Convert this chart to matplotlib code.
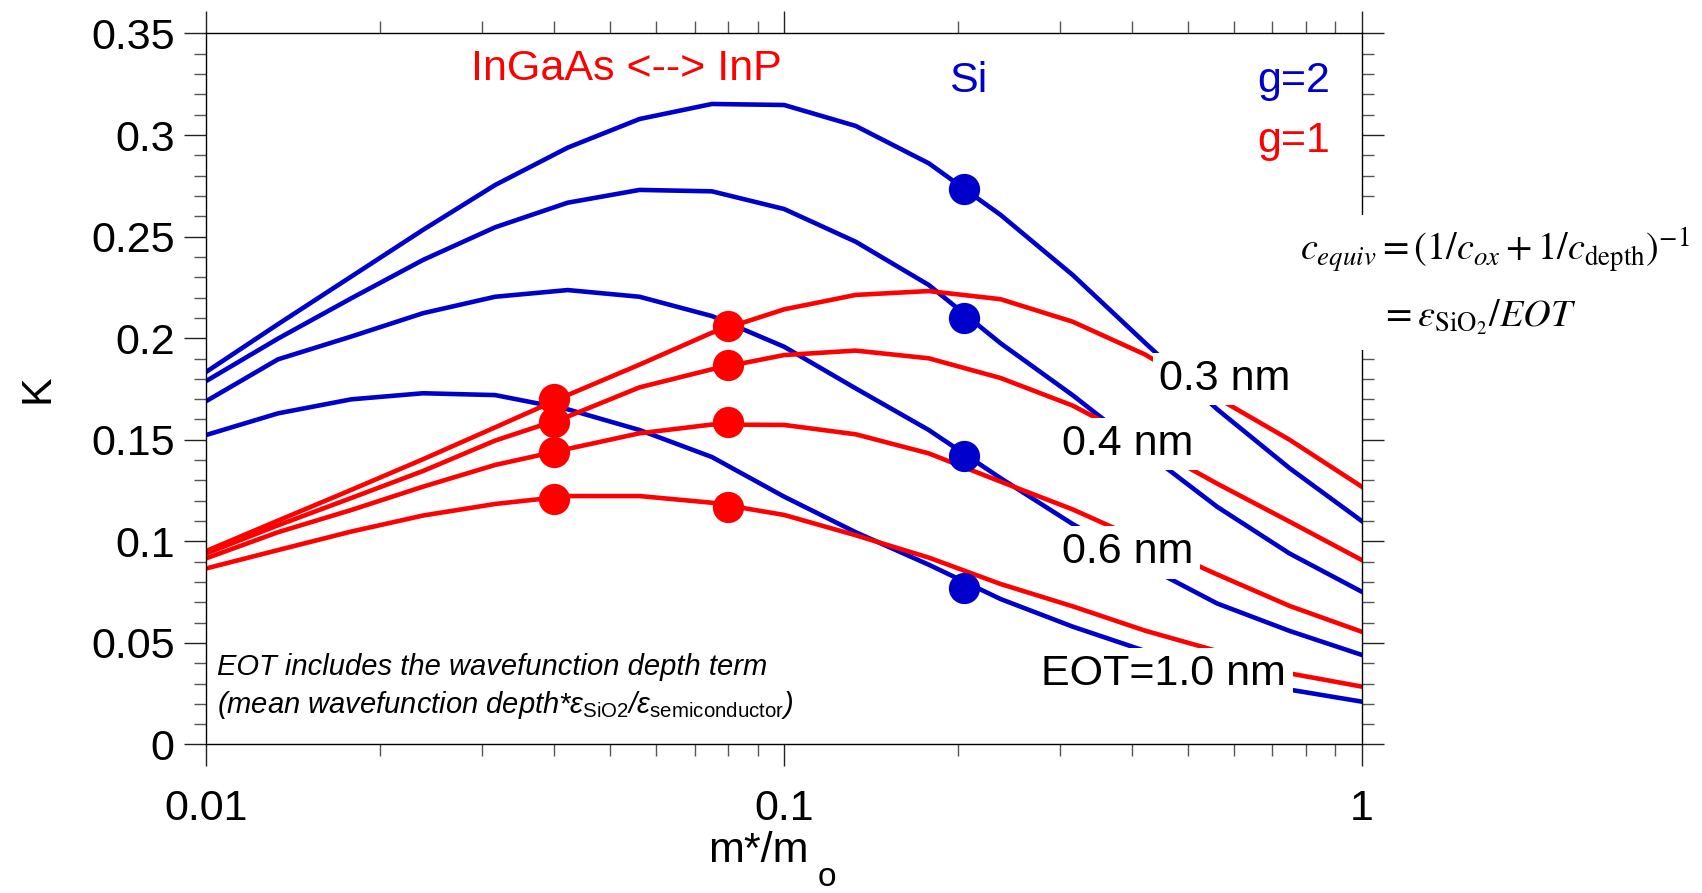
import numpy as np
import matplotlib.pyplot as plt
from matplotlib.ticker import MultipleLocator, LogLocator, NullFormatter
from matplotlib.patches import Rectangle

plt.rcParams['font.family'] = ['Liberation Sans', 'DejaVu Sans']
plt.rcParams['mathtext.fontset'] = 'custom'
plt.rcParams['mathtext.rm'] = 'Liberation Sans'
plt.rcParams['mathtext.it'] = 'Liberation Sans:italic'

BLUE = '#0000cc'
RED = '#ff0000'

# effective mass grid (m*/mo), 8 points per decade
mass = [0.01, 0.0133, 0.0178, 0.0237, 0.0316, 0.0422, 0.0562, 0.075, 0.1,
        0.133, 0.178, 0.237, 0.316, 0.422, 0.562, 0.75, 1.0]

eot_labels = ['0.3 nm', '0.4 nm', '0.6 nm', 'EOT=1.0 nm']

# g=2 (blue), EOT = 0.3, 0.4, 0.6, 1.0 nm
k_g2_03 = [0.1835, 0.2069, 0.2303, 0.2533, 0.2754, 0.2938, 0.3079, 0.3153, 0.3148,
           0.3045, 0.2861, 0.2607, 0.2311, 0.1976, 0.165, 0.136, 0.110]
k_g2_04 = [0.179, 0.1998, 0.2196, 0.2385, 0.2546, 0.2667, 0.2730, 0.2723, 0.2636,
           0.2475, 0.2262, 0.1975, 0.1719, 0.144, 0.117, 0.094, 0.0752]
k_g2_06 = [0.1691, 0.1896, 0.2008, 0.2123, 0.2204, 0.2237, 0.2204, 0.2109, 0.1958,
           0.1753, 0.1548, 0.1311, 0.1085, 0.0879, 0.0694, 0.0559, 0.0441]
k_g2_10 = [0.1524, 0.163, 0.1699, 0.1729, 0.1720, 0.165, 0.1548, 0.1415, 0.122,
           0.1045, 0.0885, 0.0716, 0.058, 0.046, 0.036, 0.027, 0.0211]

# g=1 (red)
k_g1_03 = [0.0953, 0.1102, 0.1253, 0.1404, 0.1561, 0.172, 0.187, 0.2027, 0.2142,
           0.2213, 0.2232, 0.2192, 0.2081, 0.1919, 0.1706, 0.150, 0.1269]
k_g1_04 = [0.0941, 0.1079, 0.1213, 0.1346, 0.1496, 0.1614, 0.1758, 0.1847, 0.1917,
           0.1939, 0.1901, 0.1804, 0.1668, 0.148, 0.1284, 0.1097, 0.0908]
k_g1_06 = [0.0917, 0.1045, 0.1154, 0.1269, 0.1376, 0.1455, 0.1532, 0.1575, 0.1573,
           0.1527, 0.1433, 0.1294, 0.1157, 0.0997, 0.0837, 0.0682, 0.0555]
k_g1_10 = [0.0867, 0.0957, 0.1048, 0.1127, 0.1184, 0.1223, 0.1223, 0.119, 0.113,
           0.103, 0.092, 0.079, 0.068, 0.056, 0.046, 0.035, 0.0285]

# material points
si_mass = 0.205
si_k = [0.2735, 0.2098, 0.1422, 0.0768]
ingaas_mass = 0.04
ingaas_k = [0.1699, 0.1589, 0.1441, 0.1208]
inp_mass = 0.08
inp_k = [0.2062, 0.1868, 0.1586, 0.1171]

FS = 31

fig = plt.figure(figsize=(17.02, 8.93), dpi=100)
ax = fig.add_axes([0.1213, 0.1663, 0.6788, 0.7962])

for ys in [k_g2_03, k_g2_04, k_g2_06, k_g2_10]:
    ax.plot(mass, ys, color=BLUE, lw=3.3)
for ys in [k_g1_03, k_g1_04, k_g1_06, k_g1_10]:
    ax.plot(mass, ys, color=RED, lw=3.3)

ax.plot([si_mass] * 4, si_k, 'o', color=BLUE, ms=22.5, mec='none')
ax.plot([ingaas_mass] * 4, ingaas_k, 'o', color=RED, ms=22.5, mec='none')
ax.plot([inp_mass] * 4, inp_k, 'o', color=RED, ms=22.5, mec='none')

ax.set_xscale('log')
ax.set_xlim(0.01, 1)
ax.set_ylim(0, 0.35)
ax.set_xticks([0.01, 0.1, 1], ['0.01', '0.1', '1'])
ax.xaxis.set_minor_locator(LogLocator(subs=np.arange(2, 10)))
ax.xaxis.set_minor_formatter(NullFormatter())
ax.set_yticks([0, 0.05, 0.1, 0.15, 0.2, 0.25, 0.3, 0.35],
              ['0', '0.05', '0.1', '0.15', '0.2', '0.25', '0.3', '0.35'])
ax.yaxis.set_minor_locator(MultipleLocator(0.01))

ax.tick_params(which='both', direction='out', top=True, right=True, labelsize=FS)
ax.tick_params(which='major', length=16, width=1.0, color='#222222')
ax.tick_params(which='minor', length=8.5, width=1.0, color='#555555')
ax.tick_params(axis='x', which='major', pad=16)
ax.tick_params(axis='y', which='major', pad=7)
for s in ax.spines.values():
    s.set_linewidth(1.0)

ax.set_ylabel('K', fontsize=FS)
ax.yaxis.set_label_coords(-0.1285, 0.5)
ax.set_xlabel('m*/m', fontsize=FS)
ax.xaxis.set_label_coords(0.4776, -0.1217)
ax.text(0.537, -0.199, 'o', transform=ax.transAxes, ha='center', va='baseline', fontsize=24)

T = ax.transAxes
ax.text(0.2292, 0.9346, 'InGaAs <--> InP', transform=T, color=RED, fontsize=FS, va='baseline')
ax.text(0.6426, 0.9177, 'Si', transform=T, color=BLUE, fontsize=FS, va='baseline')
ax.text(0.9727, 0.9177, 'g=2', transform=T, color=BLUE, fontsize=FS, va='baseline', ha='right')
ax.text(0.9727, 0.8333, 'g=1', transform=T, color=RED, fontsize=FS, va='baseline', ha='right')

box = dict(boxstyle='square,pad=0.15', fc='white', ec='none')
label_pos = [(0.8248, 0.4986), (0.7407, 0.4072), (0.7407, 0.2549), (0.7225, 0.0837)]
for lab, (lx, ly) in zip(eot_labels, label_pos):
    ax.text(lx, ly, lab, transform=T, fontsize=FS, va='baseline', bbox=box, zorder=5)

ax.text(0.0094, 0.0977, 'EOT includes the wavefunction depth term', transform=T,
        fontsize=21, style='italic', va='baseline')
ax.text(0.0094, 0.0439,
        r'(mean wavefunction depth*$\varepsilon_{\rm SiO2}$/$\varepsilon_{\rm semiconductor}$)',
        transform=T, fontsize=21, style='italic', va='baseline')

# white panel breaking the right spine behind the equation
ax.add_patch(Rectangle((0.937, 0.5549), 0.36, 0.19, transform=T, fc='white', ec='none',
                       clip_on=False, zorder=4))
ax.text(0.9468, 0.6814, r'$c_{equiv} = (1/c_{ox} + 1/c_{\rm depth})^{-1}$', transform=T,
        fontsize=27.5, math_fontfamily='stix', va='baseline', zorder=6)
ax.text(1.016, 0.589, r'$= \varepsilon_{\rm SiO_2}/EOT$', transform=T,
        fontsize=27.5, math_fontfamily='stix', va='baseline', zorder=6)

fig.savefig('out.png', dpi=100)
